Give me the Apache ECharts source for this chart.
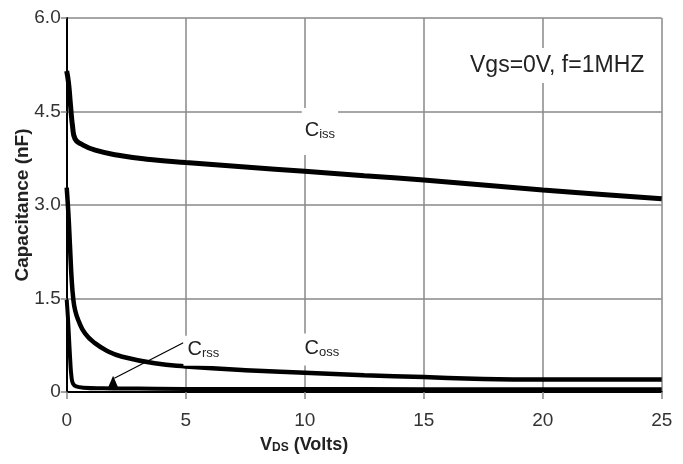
<!DOCTYPE html>
<html>
<head>
<meta charset="utf-8">
<title>Capacitance vs VDS</title>
<script src="https://cdn.jsdelivr.net/npm/echarts@6/dist/echarts.min.js"></script>
<style>
  html, body { margin: 0; padding: 0; background: #fff; }
  #chart { width: 683px; height: 464px; }
</style>
</head>
<body>
<div id="chart"></div>
<script>
// values: [VDS (V), capacitance (nF)]
var ciss = [[0, 5.15], [0.08, 4.95], [0.16, 4.6], [0.25, 4.25], [0.35, 4.06], [0.6, 3.98],
  [1.2, 3.88], [2.3, 3.79], [3.5, 3.73], [5, 3.68], [7.5, 3.61], [10, 3.54], [12.5, 3.47],
  [15, 3.4], [17.5, 3.32], [20, 3.24], [22.5, 3.17], [25, 3.1]];
var coss = [[0, 3.28], [0.07, 2.87], [0.14, 2.33], [0.21, 1.8], [0.28, 1.48], [0.35, 1.32],
  [0.49, 1.15], [0.77, 0.94], [1.2, 0.78], [1.75, 0.65], [2.3, 0.57], [3.7, 0.46], [5, 0.41],
  [7.5, 0.35], [10, 0.31], [12.5, 0.27], [15, 0.24], [17.5, 0.21], [20, 0.2], [22.5, 0.2], [25, 0.2]];
var crss = [[0, 1.48], [0.05, 1.2], [0.1, 0.85], [0.15, 0.5], [0.2, 0.25], [0.27, 0.13],
  [0.4, 0.09], [0.7, 0.07], [1.5, 0.06], [3, 0.055], [5, 0.05], [10, 0.05], [15, 0.045],
  [20, 0.045], [25, 0.045]];

var yTickLabels = ['0', '1.5', '3.0', '4.5', '6.0'];
var xTickLabels = ['0', '5', '10', '15', '20', '25'];

// where the curve names and the pointer sit, in data units
var cissLabelAt = [10.64, 4.18];
var cossLabelAt = [10.72, 0.68];
var crssLabelAt = [5.72, 0.66];
var crssArrow = [[4.9, 0.79], [2.0, 0.22]];
var crssArrowHead = [1.95, 0.15];

var FONT = '"Liberation Sans", Arial, sans-serif';
var gridColor = '#888';

function nameLabel(sub, pad) {
  return {
    show: true,
    formatter: '{c|C}{s|' + sub + '}',
    backgroundColor: '#fff',
    padding: pad,
    rich: {
      c: { fontSize: 20, fontFamily: FONT, color: '#222', verticalAlign: 'bottom', lineHeight: 22 },
      s: { fontSize: 13, fontFamily: FONT, color: '#222', verticalAlign: 'bottom', lineHeight: 17 }
    }
  };
}

function lineSeries(name, data, width) {
  return {
    name: name,
    type: 'line',
    data: data,
    showSymbol: false,
    smooth: 0.5,
    lineStyle: { color: '#000', width: width },
    z: 3
  };
}

var myChart = echarts.init(document.getElementById('chart'));

var sCiss = lineSeries('Ciss', ciss, 5);
sCiss.markPoint = {
  symbol: 'circle', symbolSize: 0, silent: true,
  label: nameLabel('iss', [11, 3, 14, 3]),
  data: [{ coord: cissLabelAt }]
};
var sCoss = lineSeries('Coss', coss, 4.5);
sCoss.markPoint = {
  symbol: 'circle', symbolSize: 0, silent: true,
  label: nameLabel('oss', [3, 3, 7, 3]),
  data: [{ coord: cossLabelAt }]
};
var sCrss = lineSeries('Crss', crss, 4);
sCrss.markPoint = {
  silent: true,
  data: [
    { coord: crssLabelAt, symbol: 'circle', symbolSize: 0, label: nameLabel('rss', [2, 3, 6, 4]) },
    { coord: crssArrowHead, symbol: 'triangle', symbolSize: [12, 14],
      itemStyle: { color: '#000' }, label: { show: false } }
  ]
};
sCrss.markLine = {
  silent: true,
  symbol: 'none',
  label: { show: false },
  lineStyle: { color: '#000', width: 1.2, type: 'solid' },
  data: [[{ coord: crssArrow[0] }, { coord: crssArrow[1] }]]
};

var option = {
  animation: false,
  backgroundColor: '#fff',
  grid: { left: 66.7, right: 21.3, top: 18, bottom: 72, outerBoundsMode: 'none', containLabel: false },
  xAxis: {
    type: 'value',
    min: 0, max: 25, interval: 5,
    axisLine: { show: true, onZero: false, lineStyle: { color: '#000', width: 2 } },
    axisTick: { show: true, length: 7, lineStyle: { color: gridColor, width: 1.5 } },
    axisLabel: {
      color: '#333', fontSize: 19, fontFamily: FONT, margin: 19,
      formatter: function (v) { return xTickLabels[Math.round(v / 5)]; }
    },
    splitLine: { show: true, lineStyle: { color: gridColor, width: 1.5 } }
  },
  yAxis: {
    type: 'value',
    min: 0, max: 6, interval: 1.5,
    name: 'Capacitance (nF)',
    nameLocation: 'middle',
    nameGap: 34,
    nameMoveOverlap: false,
    nameTextStyle: { fontSize: 19, fontWeight: 'bold', fontFamily: FONT, color: '#222' },
    axisLine: { show: true, onZero: false, lineStyle: { color: '#000', width: 2 } },
    axisTick: { show: true, length: 6, lineStyle: { color: gridColor, width: 1.5 } },
    axisLabel: {
      color: '#333', fontSize: 19, fontFamily: FONT, margin: 6,
      formatter: function (v) { return yTickLabels[Math.round(v / 1.5)]; }
    },
    splitLine: { show: true, lineStyle: { color: gridColor, width: 1.5 } }
  },
  graphic: [
    {
      type: 'text', left: 468, top: 48, z: 10,
      style: {
        text: 'Vgs=0V, f=1MHZ', fontSize: 23, fontFamily: FONT, fill: '#222',
        backgroundColor: '#fff', padding: [6, 2, 6, 2]
      }
    },
    {
      type: 'text', left: 260, top: 436, z: 10,
      style: {
        text: '{v|V}{s|DS}{v| (Volts)}',
        rich: {
          v: { fontSize: 18, fontWeight: 'bold', fontFamily: FONT, fill: '#222', verticalAlign: 'bottom', lineHeight: 20 },
          s: { fontSize: 12, fontWeight: 'bold', fontFamily: FONT, fill: '#222', verticalAlign: 'bottom', lineHeight: 15 }
        }
      }
    }
  ],
  series: [sCiss, sCoss, sCrss]
};

myChart.setOption(option);
</script>
</body>
</html>
